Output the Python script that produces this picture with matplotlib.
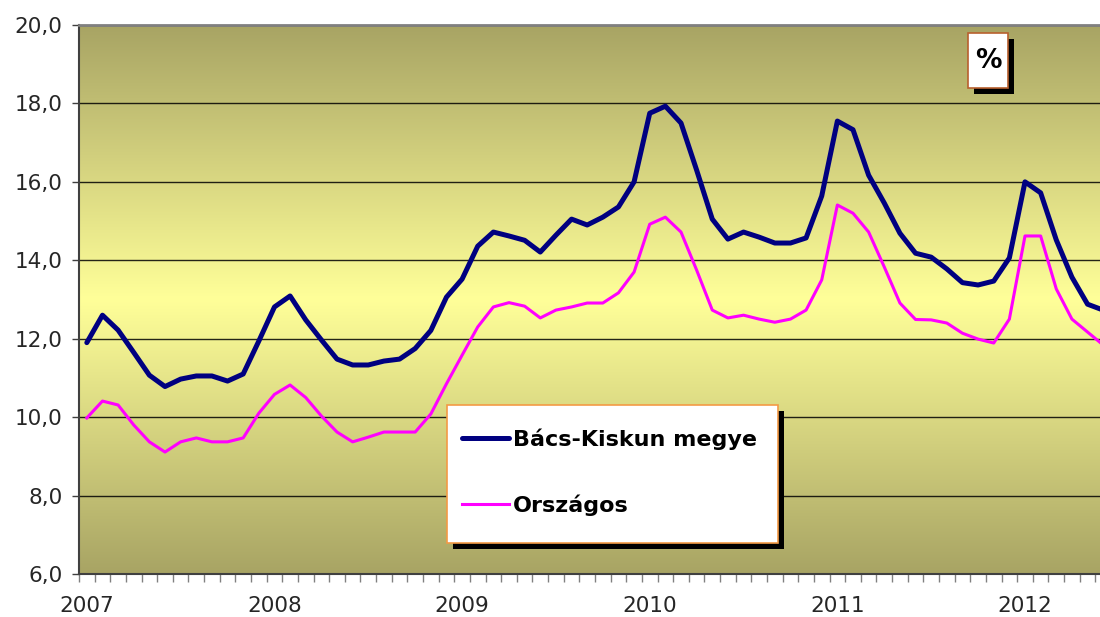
import matplotlib
matplotlib.use("Agg")
import matplotlib.pyplot as plt
import numpy as np
from matplotlib.colors import LinearSegmentedColormap
from matplotlib.patches import Rectangle

# monthly data, Jan 2007 .. Jun 2012
years = ['2007', '2008', '2009', '2010', '2011', '2012']
bacs_kiskun = [11.90, 12.60, 12.22, 11.65, 11.07, 10.78, 10.97, 11.05, 11.05, 10.92, 11.10, 11.94,
               12.81, 13.09, 12.48, 11.97, 11.48, 11.33, 11.33, 11.43, 11.48, 11.75, 12.21, 13.06,
               13.52, 14.36, 14.72, 14.62, 14.51, 14.21, 14.64, 15.05, 14.90, 15.10, 15.36, 16.00,
               17.75, 17.93, 17.50, 16.30, 15.05, 14.54, 14.72, 14.59, 14.44, 14.44, 14.57, 15.64,
               17.55, 17.33, 16.17, 15.46, 14.69, 14.18, 14.08, 13.78, 13.43, 13.37, 13.47, 14.06,
               16.00, 15.72, 14.52, 13.57, 12.88, 12.73]
orszagos = [9.98, 10.41, 10.31, 9.80, 9.37, 9.11, 9.37, 9.47, 9.37, 9.37, 9.47, 10.10,
            10.58, 10.82, 10.50, 10.03, 9.62, 9.37, 9.49, 9.62, 9.62, 9.62, 10.08, 10.85,
            11.58, 12.30, 12.81, 12.92, 12.83, 12.53, 12.73, 12.81, 12.91, 12.91, 13.17, 13.70,
            14.92, 15.10, 14.72, 13.75, 12.73, 12.53, 12.60, 12.50, 12.42, 12.50, 12.73, 13.50,
            15.41, 15.20, 14.72, 13.83, 12.91, 12.49, 12.48, 12.40, 12.14, 11.99, 11.89, 12.50,
            14.62, 14.62, 13.27, 12.50, 12.17, 11.84]
series_names = ['Bács-Kiskun megye', 'Országos']
y_ticks = [6, 8, 10, 12, 14, 16, 18, 20]

months = np.arange(len(bacs_kiskun))
year_pos = [12 * i for i in range(len(years))]

fig = plt.figure(figsize=(11, 6.17), dpi=100)
ax = fig.add_axes([79 / 1100, 43 / 617, 1 - 79 / 1100 + 0.01, 549 / 617])

# olive -> pale yellow -> olive background
cmap = LinearSegmentedColormap.from_list('bg', ['#A8A464', '#FFFF99', '#A8A464'])
grad = np.linspace(0, 1, 256).reshape(-1, 1)
ax.imshow(grad, cmap=cmap, extent=[0, 1, 0, 1], transform=ax.transAxes,
          aspect='auto', zorder=0, interpolation='bilinear')

l1, = ax.plot(months, bacs_kiskun, color='#000080', lw=3.6, zorder=3,
              solid_joinstyle='round', solid_capstyle='round')
l2, = ax.plot(months, orszagos, color='#FF00FF', lw=2.2, zorder=3,
              solid_joinstyle='round')

ax.set_xlim(-0.5, 65.05)
ax.set_ylim(6, 20)
ax.set_yticks(y_ticks)
ax.set_yticklabels([('%.1f' % v).replace('.', ',') for v in y_ticks])
ax.yaxis.grid(True, color='black', lw=1.0, alpha=0.85)
for gl in ax.get_ygridlines():
    gl.set_zorder(1)

ax.set_xticks(year_pos)
ax.set_xticklabels(years)
ax.set_xticks(np.arange(-0.5, 66, 1), minor=True)
ax.tick_params(axis='x', which='major', length=0, pad=16, labelsize=15.5, labelcolor='#262626')
ax.tick_params(axis='x', which='minor', length=6, width=1, color='#808080')
ax.tick_params(axis='y', length=5, width=1, color='#404040', pad=7, labelsize=15.5,
               labelcolor='#262626')

ax.spines['right'].set_visible(False)
ax.spines['top'].set_color('#808080')
ax.spines['top'].set_linewidth(2)
ax.spines['left'].set_color('#404040')
ax.spines['left'].set_linewidth(1.5)
ax.spines['bottom'].set_color('#404040')
ax.spines['bottom'].set_linewidth(1.5)

# legend box with black drop shadow
fig.add_artist(Rectangle((453 / 1100, 1 - 549 / 617), 331 / 1100, 138 / 617,
                         transform=fig.transFigure, fc='black', ec='none', zorder=4))
fig.add_artist(Rectangle((447 / 1100, 1 - 543 / 617), 331 / 1100, 138 / 617,
                         transform=fig.transFigure, fc='white', ec='#F39A45', lw=1.2, zorder=4.5))
leg = fig.legend([l1, l2], series_names, loc='upper left',
                 bbox_to_anchor=(462 / 1100, 1 - 428 / 617), borderaxespad=0,
                 prop=dict(family='DejaVu Sans', weight='bold', size=16),
                 frameon=False, borderpad=0, labelspacing=2.03,
                 handlelength=2.1, handletextpad=0.2)
leg.set_zorder(5)

# "%" box
fig.add_artist(Rectangle((974 / 1100, 1 - 94 / 617), 40 / 1100, 55 / 617,
                         transform=fig.transFigure, fc='black', ec='none', zorder=4))
fig.add_artist(Rectangle((968 / 1100, 1 - 88 / 617), 40 / 1100, 55 / 617,
                         transform=fig.transFigure, fc='white', ec='#B8602E', lw=1.2, zorder=5))
fig.text(988 / 1100, 1 - 61 / 617, '%', ha='center', va='center', fontsize=19,
         fontweight='bold', color='black', zorder=6)

fig.savefig('out.png', dpi=100)
